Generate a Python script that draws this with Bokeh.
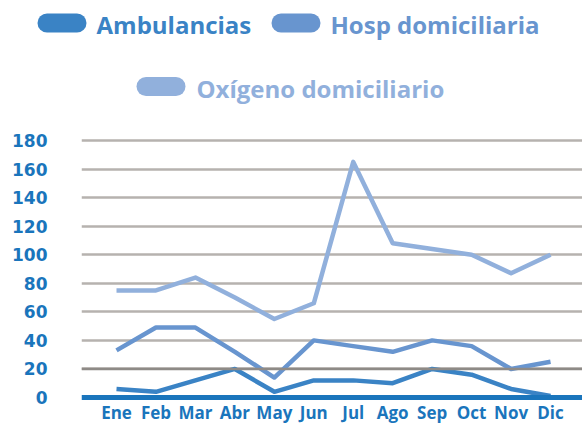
from bokeh.plotting import figure
from bokeh.layouts import column, row
from bokeh.models import Range1d, Span, FixedTicker
from bokeh.core.properties import value
from bokeh.embed import file_html
from bokeh.resources import INLINE

# ---------------- data ----------------
months = ["Ene", "Feb", "Mar", "Abr", "May", "Jun", "Jul", "Ago", "Sep", "Oct", "Nov", "Dic"]
ambulancias = [6, 4, 12, 20, 4, 12, 12, 10, 20, 16, 6, 1]
hosp = [33, 49, 49, 32, 14, 40, 36, 32, 40, 36, 20, 25]
oxigeno = [75, 75, 84, 70, 55, 66, 165, 108, 104, 100, 87, 100]
y_ticks = [0, 20, 40, 60, 80, 100, 120, 140, 160, 180]
names = ["Ambulancias", "Hosp domiciliaria", "Oxígeno domiciliario"]

# ---------------- style ----------------
colors = ["#3a83c5", "#6895cf", "#91b0dc"]
AXIS_BLUE = "#1a75bc"
FONT = "Open Sans"
W = 582
LEG_H = 122
CHART_H = 302

# legend swatch layout (pixels in the legend strip): (pill x0, pill x1, pill y, text x, text y)
leg_layout = [(46.5, 76.5, 22.5, 96, 23.5), (280.5, 310.5, 22.5, 330, 23.5),
              (145.5, 175.5, 86, 196, 87.5)]

lg = figure(width=W, height=LEG_H, output_backend="svg", toolbar_location=None,
            x_range=Range1d(0, W), y_range=Range1d(LEG_H, 0),
            min_border=0, x_axis_type=None, y_axis_type=None)
lg.outline_line_color = None
lg.xgrid.visible = False
lg.ygrid.visible = False
for name, c, (x0, x1, py, tx, ty) in zip(names, colors, leg_layout):
    lg.line(x=[x0, x1], y=[py, py], line_color=c, line_width=19, line_cap="round")
    lg.text(x=[tx], y=[ty], text=[name], text_color=c, text_font=value(FONT),
            text_font_style="bold", text_font_size="24px", text_baseline="middle")

# ---------------- chart ----------------
xs = list(range(len(months)))
p = figure(width=W, height=CHART_H, output_backend="svg", toolbar_location=None,
           x_range=Range1d(-0.887, 11.81), y_range=Range1d(-18.9, 192.6),
           min_border_left=81, min_border_right=0, min_border_top=0, min_border_bottom=0)
p.outline_line_color = None
p.xaxis.visible = False

p.xgrid.grid_line_color = None
p.ygrid.ticker = FixedTicker(ticks=y_ticks[1:])
p.ygrid.grid_line_color = "#b6b2af"
p.ygrid.grid_line_width = 2.5
p.add_layout(Span(location=y_ticks[1], dimension="width", line_color="#8e8a86", line_width=2.5))

p.yaxis.ticker = FixedTicker(ticks=y_ticks)
p.yaxis.axis_line_color = None
p.yaxis.major_tick_line_color = None
p.yaxis.minor_tick_line_color = None
p.yaxis.major_tick_out = 0
p.yaxis.major_tick_in = 0
p.yaxis.major_label_standoff = 34
p.yaxis.major_label_text_font = "DejaVu Sans"
p.yaxis.major_label_text_font_style = "bold"
p.yaxis.major_label_text_font_size = "17px"
p.yaxis.major_label_text_color = AXIS_BLUE

for vals, c in zip([oxigeno, hosp, ambulancias], colors[::-1]):
    p.line(x=xs, y=vals, line_color=c, line_width=4.5, line_join="round")

# baseline (x axis line) and month labels
p.add_layout(Span(location=y_ticks[0], dimension="width", line_color=AXIS_BLUE, line_width=5))
p.text(x=xs, y=[y_ticks[0]] * len(xs), text=months, y_offset=15,
       text_align="center", text_baseline="middle", text_color=AXIS_BLUE,
       text_font=value(FONT), text_font_style="bold", text_font_size="17px")

open("out.html", "w").write(file_html(column(row(lg), p, spacing=0), INLINE))
